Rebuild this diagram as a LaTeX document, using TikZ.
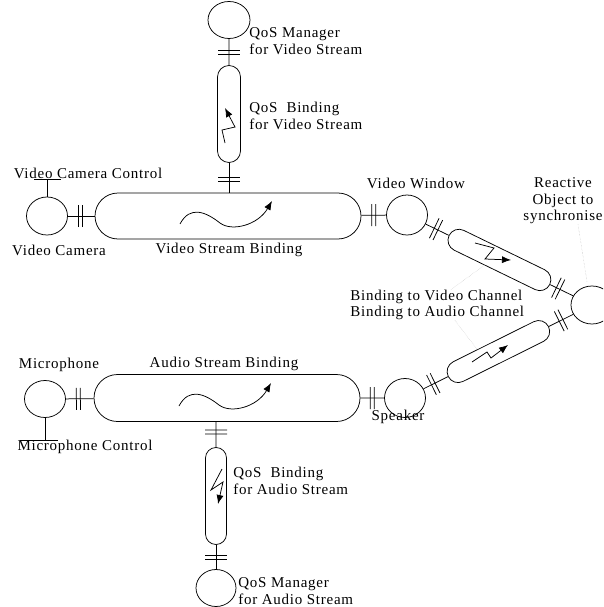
\documentclass[tikz,border=0pt]{standalone}
\usepackage{fontspec}
\setmainfont{Liberation Serif}[LetterSpace=5]
\usetikzlibrary{shapes.geometric, shapes.misc, arrows.meta, calc, decorations.markings}

\tikzset{
    obj/.style={draw, ellipse, inner sep=0pt, minimum width=41pt, minimum height=37pt},
    stream/.style={draw, rounded rectangle, inner sep=0pt, minimum width=266pt, minimum height=46pt},
    qos/.style={draw, rounded rectangle, rotate=90, inner sep=0pt, minimum width=97pt, minimum height=22pt},
    chan/.style={draw, rounded rectangle, sloped, inner sep=0pt, minimum width=112pt, minimum height=22pt},
    lbl/.style={inner sep=0pt, align=left, font=\fontsize{15}{16.5}\selectfont},
    leader/.style={gray!55, thin, densely dotted},
    flow/.style={-{Latex[length=9pt, width=7pt]}},
    twobar/.style={postaction={decorate, decoration={markings,
        mark=at position #1 with {\draw (-2pt,-11pt) -- (-2pt,11pt) (2pt,-11pt) -- (2pt,11pt);}}}},
    twobar/.default=0.5,
    wave/.pic={\draw[flow] (-48,8) .. controls (-38,-11) and (-22,-4) .. (-8,7) .. controls (4,16) and (30,9) .. (44,-15);}
}

\begin{document}
\begin{tikzpicture}[x=1pt, y=-1pt, line width=0.75pt]
        \useasboundingbox (0,0) rectangle (603,607);
        \clip (0,0) rectangle (603,607);

        % Video stream side
        \node[obj, minimum width=42pt] (vqm) at (229,20) {};
        \node[qos, minimum height=23pt] (vqb) at (229,114) {};
        \node[stream] (vsb) at (228,216) {};
        \node[obj, minimum height=38pt] (cam) at (47,216) {};
        \node[obj, minimum height=40pt] (vwin) at (407,215) {};

        % Reactive object and the two channels
        \node[obj, minimum width=42pt, minimum height=38pt] (react) at (592,305) {};
        \path (vwin) -- node[chan] (vchan) {} (react);

        % Audio stream side
        \node[obj, minimum height=39pt] (spk) at (405,398) {};
        \node[stream, minimum height=47pt] (asb) at (227,398) {};
        \node[obj] (mic) at (45,399) {};
        \node[qos, minimum height=21pt] (aqb) at (216,496) {};
        \node[obj, minimum width=40pt] (aqm) at (216,588) {};
        \path (spk) -- node[chan] (achan) {} (react);

        % Bindings between objects
        \draw[twobar] (vqm) -- (vqb);
        \draw[twobar=.55] (vqb) -- (vqb |- vsb.north);
        \draw[twobar=.45] (cam) -- (vsb);
        \draw[twobar] (vsb) -- (vwin);
        \draw[twobar=.45] (vwin) -- (vchan);
        \draw[twobar=.35] (vchan) -- (react);
        \draw[twobar=.45] (mic) -- (asb);
        \draw[twobar] (asb) -- (spk);
        \draw[twobar=.4] (spk) -- (achan);
        \draw[twobar] (achan) -- (react);
        \draw[twobar=.4] (asb.south -| aqb) -- (aqb);
        \draw[twobar] (aqb) -- (aqm);

        % Control interfaces
        \coordinate (camtee) at (47,179);
        \draw (cam) -- (camtee);
        \draw ([xshift=-13pt]camtee) -- ([xshift=14pt]camtee);
        \coordinate (mictee) at (45,440);
        \draw (mic) -- (mictee);
        \draw ([xshift=-25pt]mictee) -- ([xshift=13pt]mictee);

        % Flows inside the bindings
        \pic at (vsb.center) {wave};
        \pic at (asb.center) {wave};
        \draw[flow] (225,143) -- (222,130) -- (235,127) -- (225,108);
        \draw[flow] (222,469) -- (211,490) -- (223,482) -- (218,504);
        \draw[flow] (475,243) -- (494,248) -- (485,259) -- (511,260);
        \draw[flow] (472,362) -- (487,352) -- (491,358) -- (508,345);

        % Labels
        \node[lbl, anchor=west] (vqmlbl) at (249,41) {QoS Manager\\for Video Stream};
        \node[lbl, anchor=west] (vqblbl) at (249,116) {QoS\ \ Binding\\for Video Stream};
        \node[lbl] (camctllbl) at (88,173) {Video Camera Control};
        \node[lbl] (camlbl) at (59,250) {Video Camera};
        \node[lbl] (vsblbl) at (229,250) {Video Stream Binding};
        \node[lbl] (vwinlbl) at (416,183) {Video Window};
        \node[lbl, align=center] (reactlbl) at (563,201) {Reactive\\Object to\\synchronise};
        \node[lbl, anchor=west] (chanlbl) at (350,305) {Binding to Video Channel\\Binding to Audio Channel};
        \node[lbl] (miclbl) at (59,365) {Microphone};
        \node[lbl] (asblbl) at (224,364) {Audio Stream Binding};
        \node[lbl] (micctllbl) at (85,447) {Microphone Control};
        \node[lbl] (spklbl) at (398,417) {Speaker};
        \node[lbl, anchor=west] (aqblbl) at (233,481) {QoS\ \ Binding\\for Audio Stream};
        \node[lbl, anchor=west] (aqmlbl) at (238,591) {QoS Manager\\for Audio Stream};

        % Leaders
        \draw[leader] ([xshift=101pt]chanlbl.north west) -- ($(vchan.south)!0.25!(vchan.south west)$);
        \draw[leader] ([xshift=105pt]chanlbl.south west) -- ($(achan.north)!0.4!(achan.north west)$);
        \draw[leader] ([xshift=15pt]reactlbl.south) -- ([xshift=-5pt, yshift=4pt]react.north);
    \end{tikzpicture}
\end{document}
